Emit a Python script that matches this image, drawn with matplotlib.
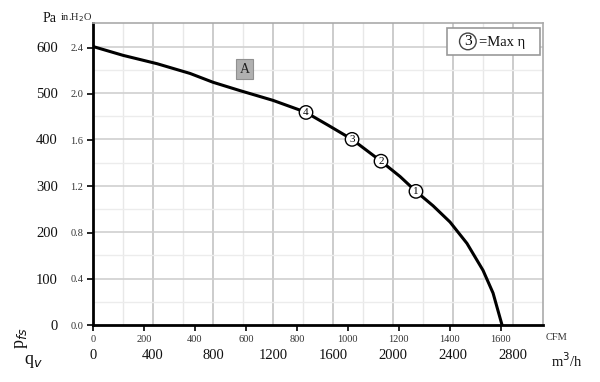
import matplotlib.pyplot as plt
from matplotlib.patches import Rectangle
from matplotlib.ticker import MultipleLocator

plt.rcParams['font.family'] = ['Liberation Serif', 'DejaVu Serif']

# fan curve, airflow in m3/h, static pressure in Pa
curve_q = [0, 200, 427, 647, 800, 980, 1200, 1380, 1420, 1570, 1727, 1920, 2047, 2153,
           2267, 2380, 2493, 2600, 2667, 2727]
curve_p = [600, 581, 563, 542, 523, 505, 484, 463, 458, 430, 400, 353, 320, 288,
           257, 222, 176, 118, 69, 0]

# operating points
point_labels = ['4', '3', '2', '1']
point_q = [1420, 1727, 1920, 2153]
point_p = [458, 400, 353, 288]

cfm_ticks = [0, 200, 400, 600, 800, 1000, 1200, 1400, 1600]
m3h_ticks = [0, 400, 800, 1200, 1600, 2000, 2400, 2800]
pa_ticks = [0, 100, 200, 300, 400, 500, 600]
inh2o_ticks = [0.0, 0.4, 0.8, 1.2, 1.6, 2.0, 2.4]

CFM = 1.699  # m3/h per CFM
INH2O = 249.09  # Pa per inH2O

fig = plt.figure(figsize=(6, 3.82), dpi=100)
ax = fig.add_axes([0.155, 0.149, 0.75, 0.79])
ax.set_xlim(0, 3000)
ax.set_ylim(0, 650)

# grid
for v in range(400, 3000, 400):
    ax.axvline(v, color='#c4c4c4', lw=1.2, zorder=0)
for v in range(200, 3000, 400):
    ax.axvline(v, color='#e8e8e8', lw=1.0, zorder=0)
for v in range(100, 650, 100):
    ax.axhline(v, color='#d0d0d0', lw=1.2, zorder=0)
for v in range(50, 650, 100):
    ax.axhline(v, color='#ececec', lw=1.0, zorder=0)

ax.plot(curve_q, curve_p, color='black', lw=2.2, zorder=3, solid_joinstyle='round')

for lab, q, p in zip(point_labels, point_q, point_p):
    ax.text(q, p, lab, ha='center', va='center', fontsize=8, zorder=5,
            bbox=dict(boxstyle='circle,pad=0.2', fc='white', ec='black', lw=1.0))

ax.text(1013, 551, 'A', ha='center', va='center', fontsize=10, color='#222222', zorder=5,
        bbox=dict(boxstyle='square,pad=0.25', fc='#b0b0b0', ec='#909090', lw=0.8))

# legend box
ax.add_patch(Rectangle((0.787, 0.894), 0.206, 0.089, transform=ax.transAxes,
                       fc='white', ec='#999999', lw=1.2, zorder=6))
ax.text(0.833, 0.94, '3', transform=ax.transAxes, ha='center', va='center', fontsize=11, zorder=7,
        bbox=dict(boxstyle='circle,pad=0.12', fc='white', ec='#444444', lw=1.0))
ax.text(0.858, 0.937, '=Max η', transform=ax.transAxes, ha='left', va='center',
        fontsize=10.5, color='#111111', zorder=7)

# spines
for s in ['top', 'right']:
    ax.spines[s].set_color('#aaaaaa')
    ax.spines[s].set_linewidth(1.2)
for s in ['left', 'bottom']:
    ax.spines[s].set_color('black')
    ax.spines[s].set_linewidth(2)

# CFM ticks along the bottom
ax.set_xticks([c * CFM for c in cfm_ticks])
ax.set_xticklabels([str(c) for c in cfm_ticks], fontsize=7.5, color='#333333')
ax.tick_params(axis='x', which='major', length=4, width=1.2, pad=3, direction='out')

# inH2O ticks on the left
ax.set_yticks([v * INH2O for v in inh2o_ticks])
ax.set_yticklabels(['%.1f' % v for v in inh2o_ticks], fontsize=7.5, color='#333333')
ax.tick_params(axis='y', which='major', length=4, width=1.2, pad=3, direction='out')

# Pa labels
sec_y = ax.secondary_yaxis(-0.075)
sec_y.set_yticks(pa_ticks)
sec_y.set_yticklabels([str(v) for v in pa_ticks], fontsize=10.5, color='#111111')
sec_y.tick_params(length=0, pad=1)
sec_y.spines['left'].set_visible(False)

# m3/h labels
sec_x = ax.secondary_xaxis(-0.07)
sec_x.set_xticks(m3h_ticks)
sec_x.set_xticklabels([str(v) for v in m3h_ticks], fontsize=10.5, color='#111111')
sec_x.tick_params(length=0, pad=2)
sec_x.spines['bottom'].set_visible(False)

fig.text(50 / 600, 1 - 18 / 382, 'Pa', ha='center', va='center', fontsize=10, color='#111111')
fig.text(92 / 600, 1 - 18 / 382, 'in.H$_2$O', ha='right', va='center', fontsize=7.5, color='#222222')
fig.text(22 / 600, 1 - 338 / 382, 'p$_{fs}$', ha='center', va='center', fontsize=13,
         rotation=90, color='#111111')
fig.text(33 / 600, 1 - 361 / 382, 'q$_v$', ha='center', va='center', fontsize=13, color='#111111')
fig.text(556 / 600, 1 - 338 / 382, 'CFM', ha='center', va='center', fontsize=7.5, color='#333333')
fig.text(567 / 600, 1 - 361 / 382, 'm$^3$/h', ha='center', va='center', fontsize=10.5, color='#111111')

fig.savefig('out.png', dpi=100)
